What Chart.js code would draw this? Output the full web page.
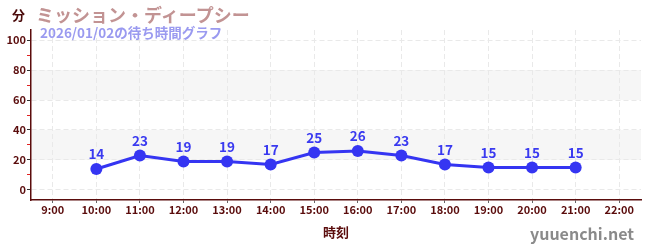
<!DOCTYPE html>
<html>
<head>
<meta charset="utf-8">
<script src="https://cdn.jsdelivr.net/npm/chart.js@4.4.1/dist/chart.umd.min.js"></script>
<style>
  html, body { margin: 0; padding: 0; background: #fff; }
  #wrap { position: relative; width: 650px; height: 250px; font-family: 'Noto Sans CJK JP', 'Noto Sans', sans-serif; }
  #chart { position: absolute; left: 0; top: 0; }
  .txt { position: absolute; font-weight: bold; white-space: nowrap; }
  #unit { left: 12px; top: 5px; font-size: 13px; color: #4a0a0a; }
  #title { left: 36px; top: 1px; font-size: 18px; color: #c29393; }
  #sub { left: 40px; top: 22px; font-size: 13.5px; color: #9a9af0; }
  #site { right: 16px; top: 221px; font-size: 16px; color: #8a8a8a; }
</style>
</head>
<body>
<div id="wrap">
  <canvas id="chart" width="650" height="250"></canvas>
  <div class="txt" id="unit">分</div>
  <div class="txt" id="title">ミッション・ディープシー</div>
  <div class="txt" id="sub">2026/01/02の待ち時間グラフ</div>
  <div class="txt" id="site">yuuenchi.net</div>
</div>
<script>
// wait times per hour
const hours = [10, 11, 12, 13, 14, 15, 16, 17, 18, 19, 20, 21];
const waits = [14, 23, 19, 19, 17, 25, 26, 23, 17, 15, 15, 15];
const xTicks = [9, 10, 11, 12, 13, 14, 15, 16, 17, 18, 19, 20, 21, 22];
const yTicks = [0, 10, 20, 30, 40, 50, 60, 70, 80, 90, 100];
const bands = [[20, 40], [60, 80]];

const maroon = '#5a0c0c';
const lineBlue = '#3535f2';

// gray bands behind the plot
const bandPlugin = {
    id: 'bands',
    beforeDraw(chart) {
        const { ctx, chartArea, scales } = chart;
        ctx.save();
        ctx.fillStyle = '#f6f6f6';
        bands.forEach(b => {
            const y1 = scales.y.getPixelForValue(b[1]);
            const y0 = scales.y.getPixelForValue(b[0]);
            ctx.fillRect(chartArea.left, y1, chartArea.right - chartArea.left, y0 - y1);
        });
        ctx.restore();
    }
};

// value labels above points
const labelPlugin = {
    id: 'vlabels',
    afterDatasetsDraw(chart) {
        const { ctx } = chart;
        const meta = chart.getDatasetMeta(0);
        ctx.save();
        ctx.fillStyle = '#3a3af0';
        ctx.font = 'bold 13.5px "Noto Sans CJK JP", sans-serif';
        ctx.textAlign = 'center';
        ctx.textBaseline = 'bottom';
        meta.data.forEach((pt, i) => {
            ctx.fillText(waits[i], pt.x, pt.y - 8);
        });
        ctx.restore();
    }
};

new Chart(document.getElementById('chart'), {
    type: 'line',
    data: {
        datasets: [{
            data: hours.map((h, i) => ({ x: h, y: waits[i] })),
            borderColor: lineBlue,
            backgroundColor: lineBlue,
            borderWidth: 3,
            pointRadius: 6,
            pointHoverRadius: 6,
            pointBorderWidth: 0,
            tension: 0
        }]
    },
    options: {
        responsive: false,
        animation: false,
        events: [],
        layout: { padding: { top: 30, right: 9, left: 0, bottom: 0 } },
        plugins: { legend: { display: false }, tooltip: { enabled: false } },
        scales: {
            x: {
                type: 'linear',
                min: 8.5,
                max: 22.5,
                afterBuildTicks: s => { s.ticks = xTicks.map(v => ({ value: v })); },
                afterFit: s => { s.height = 50; },
                border: { color: maroon, width: 1.5, dash: [5, 3] },
                grid: {
                    color: '#e9e9e9',
                    tickColor: '#666',
                    tickLength: 3,
                    tickBorderDash: [],
                    drawOnChartArea: true
                },
                ticks: {
                    color: maroon,
                    padding: 0,
                    maxRotation: 0,
                    font: { family: 'Noto Sans CJK JP', size: 11, weight: 'bold' },
                    callback: v => v + ':00'
                },
                title: {
                    display: true,
                    text: '時刻',
                    color: maroon,
                    padding: { top: 3, bottom: 10 },
                    font: { family: 'Noto Sans CJK JP', size: 13, weight: 'bold' }
                }
            },
            y: {
                min: -6.67,
                max: 106.67,
                afterBuildTicks: s => { s.ticks = yTicks.map(v => ({ value: v })); },
                afterFit: s => { s.width = 31; },
                border: { color: maroon, width: 1.5, dash: [5, 3] },
                grid: {
                    color: c => (c.tick && c.tick.value % 20 === 0) ? '#e9e9e9' : 'rgba(0,0,0,0)',
                    tickColor: c => (c.tick && c.tick.value % 20 === 0) ? '#333' : '#e02020',
                    tickBorderDash: [],
                    tickLength: 4
                },
                ticks: {
                    color: maroon,
                    padding: 1,
                    font: { family: 'Noto Sans CJK JP', size: 11, weight: 'bold' },
                    callback: v => (v % 20 === 0 ? v : '')
                }
            }
        }
    },
    plugins: [bandPlugin, labelPlugin]
});
</script>
</body>
</html>
